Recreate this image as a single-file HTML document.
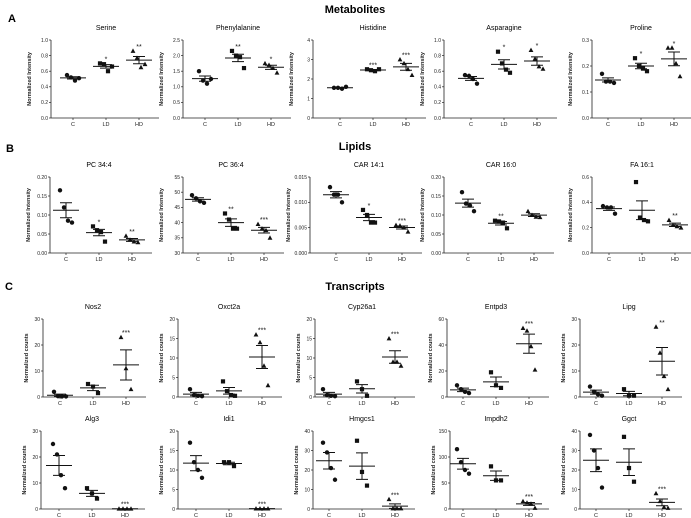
<!DOCTYPE html>
<html><head><meta charset="utf-8">
<style>
html,body{margin:0;padding:0;background:#fff;}
svg{display:block;font-family:"Liberation Sans",sans-serif;}
</style></head>
<body>
<svg id="fig" width="691" height="518" viewBox="0 0 691 518">
<text x="8" y="22" font-size="11" font-weight="bold">A</text>
<text x="355" y="13" font-size="11" font-weight="bold" text-anchor="middle">Metabolites</text>
<text x="6" y="152" font-size="11" font-weight="bold">B</text>
<text x="355" y="150" font-size="11" font-weight="bold" text-anchor="middle">Lipids</text>
<text x="5" y="290" font-size="11" font-weight="bold">C</text>
<text x="355" y="290" font-size="11" font-weight="bold" text-anchor="middle">Transcripts</text>
</svg>
<script>
const titles=["Serine","Phenylalanine","Histidine","Asparagine","Proline","PC 34:4","PC 36:4","CAR 14:1","CAR 16:0","FA 16:1","Nos2","Oxct2a","Cyp26a1","Entpd3","Lipg","Alg3","Idi1","Hmgcs1","Impdh2","Ggct"];
const categories=["C","LD","HD"];
const groupC=[[0.55,0.52,0.48,0.51],[1.5,1.2,1.1,1.25],[1.55,1.55,1.5,1.6],[0.55,0.54,0.5,0.44],[0.17,0.14,0.14,0.135],[0.165,0.12,0.085,0.08],[49,48,47,46.5],[0.013,0.0115,0.0115,0.0100],[0.16,0.13,0.125,0.11],[0.37,0.36,0.36,0.31],[2,0.3,0.2,0.2],[2,0.5,0.3,0.2],[2,0.5,0.3,0.2],[9,6,4,3],[4,2,1,0.5],[25,21,13,8],[17,12,10,8],[34,29,21,15],[115,90,75,68],[38,30,21,11]];
const groupLD=[[0.70,0.69,0.60,0.66],[2.15,2.0,1.95,1.6],[2.5,2.45,2.4,2.5],[0.85,0.70,0.62,0.58],[0.23,0.20,0.19,0.18],[0.07,0.06,0.055,0.03],[43,41,38,38],[0.0085,0.0075,0.006,0.006],[0.085,0.083,0.08,0.065],[0.56,0.28,0.26,0.25],[5,4,1.5],[4,1.5,0.5,0.3],[4,2,0.3],[19,9,7],[3,0.5,0.5],[8,6,4],[12,12,11],[35,19,12],[82,55,55],[37,21,14]];
const groupHD=[[0.86,0.77,0.65,0.69],[1.75,1.7,1.6,1.45],[3.0,2.8,2.5,2.2],[0.87,0.76,0.66,0.63],[0.27,0.27,0.21,0.16],[0.045,0.035,0.03,0.028],[39.5,38,37.5,35],[0.0055,0.0054,0.005,0.0042],[0.11,0.1,0.095,0.094],[0.26,0.22,0.21,0.20],[23,11,3],[16,14,8,3],[15,9,9,8],[53,51,39,21],[27,17,8,3],[0.1,0.1,0.1,0.1],[0.1,0.1,0.1,0.1],[5,0.3,0.3,0.3],[15,12,10,2],[8,4,1,0.5]];
const yMin=[0,0,0,0,0,0,30,0,0,0,0,0,0,0,0,0,0,0,0,0];
const yMax=[1,2.5,4,1,0.3,0.2,55,0.015,0.2,0.6,30,20,20,60,30,30,20,40,150,40];
const tickLabels=[["0.0","0.2","0.4","0.6","0.8","1.0"],["0.0","0.5","1.0","1.5","2.0","2.5"],["0","1","2","3","4"],["0.0","0.2","0.4","0.6","0.8","1.0"],["0.0","0.1","0.2","0.3"],["0.00","0.05","0.10","0.15","0.20"],["30","35","40","45","50","55"],["0.000","0.005","0.010","0.015"],["0.00","0.05","0.10","0.15","0.20"],["0.0","0.2","0.4","0.6"],["0","10","20","30"],["0","5","10","15","20"],["0","5","10","15","20"],["0","20","40","60"],["0","10","20","30"],["0","10","20","30"],["0","5","10","15","20"],["0","10","20","30","40"],["0","50","100","150"],["0","10","20","30","40"]];
const starsLD=["*","**","***","*","*","*","**","*","**","","","","","","","","","","",""];
const starsHD=["**","*","***","*","*","**","***","***","","**","***","***","***","***","**","***","***","***","***","***"];

// layout (positions only): axis x, first category x, plot top, plot bottom
const axisX=[51,183,313,444,592,50,183,310,444,592,43,178,315,447,580,41,178,313,450,580];
const catStart=[73,205,340,471,608,66,198,336,468,609,60,196,329,463,596,59,196,329,463,596];
const rowTop=[40,40,40,40,40,177,177,177,177,177,319,319,319,319,319,431,431,431,431,431];
const rowBot=[118,118,118,118,118,253,253,253,253,253,397,397,397,397,397,509,509,509,509,509];

const svg=document.getElementById('fig');
const NS='http://www.w3.org/2000/svg';
function mk(tag,attrs,parent){const e=document.createElementNS(NS,tag);for(const k in attrs)e.setAttribute(k,attrs[k]);(parent||svg).appendChild(e);return e;}
function meanOf(a){return a.reduce((s,v)=>s+v,0)/a.length;}
function semOf(a){const m=meanOf(a);const sd=Math.sqrt(a.reduce((s,v)=>s+(v-m)*(v-m),0)/(a.length-1));return sd/Math.sqrt(a.length);}

titles.forEach((t,i)=>{
  const g=mk('g',{});
  
  
  const top=rowTop[i],bot=rowBot[i],ax=axisX[i];
  const sp=33;
  const xOf=k=>catStart[i]+k*sp;
  const yOf=v=>bot-(v-yMin[i])/(yMax[i]-yMin[i])*(bot-top);
  const right=xOf(2)+20;
  const ttl=mk('text',{x:xOf(1),y:top-10,'font-size':7,'text-anchor':'middle'},g);ttl.textContent=t;
  
  
  const ya=mk('line',{x1:ax,y1:top,x2:ax,y2:bot,stroke:'#222','stroke-width':0.8},g);
  
  
  const xa=mk('line',{x1:ax,y1:bot,x2:right,y2:bot,stroke:'#222','stroke-width':0.8},g);
  
  
  const tl=tickLabels[i];
  tl.forEach((lab,k)=>{
    const v=yMin[i]+(yMax[i]-yMin[i])*k/(tl.length-1);
    const y=yOf(v);
    mk('line',{x1:ax-2,y1:y,x2:ax,y2:y,stroke:'#222','stroke-width':0.7},g);
    const tx=mk('text',{x:ax-3,y:y+1.8,'font-size':5,'text-anchor':'end',fill:'#222'},g);tx.textContent=lab;
    
    
  });
  const yt=mk('text',{x:0,y:0,'font-size':5.5,'font-weight':'bold','text-anchor':'middle',fill:'#222',transform:`translate(${ax-(i<10?20:15)},${(top+bot)/2}) rotate(-90)`},g);
  yt.textContent=i<10?'Normalized Intensity':'Normalized counts';
  
  
  const groups=[groupC[i],groupLD[i],groupHD[i]];
  const stars=["",starsLD[i],starsHD[i]];
  groups.forEach((pts,k)=>{
    const cx=xOf(k);
    mk('line',{x1:cx,y1:bot,x2:cx,y2:bot+2,stroke:'#222','stroke-width':0.7},g);
    const cl=mk('text',{x:cx,y:bot+8,'font-size':5.5,'text-anchor':'middle',fill:'#222'},g);cl.textContent=categories[k];
    
    
    pts.forEach((v,j)=>{
      const px=cx+(pts.length>3?[-6,-2,2,6][j]:[-5,0,5][j]),py=yOf(v);
      let m;
      if(k===0)m=mk('circle',{cx:px,cy:py,r:2.2,fill:'#111'},g);
      else if(k===1)m=mk('rect',{x:px-2.1,y:py-2.1,width:4.2,height:4.2,fill:'#111'},g);
      else m=mk('polygon',{points:`${px},${py-2.5} ${px-2.4},${py+1.9} ${px+2.4},${py+1.9}`,fill:'#111'},g);
      
      
    });
    const m=meanOf(pts),s=semOf(pts);
    const ml=mk('line',{x1:cx-13,y1:yOf(m),x2:cx+13,y2:yOf(m),stroke:'#111','stroke-width':1},g);
    
    
    const eb=mk('path',{d:`M${cx},${yOf(m+s)}V${yOf(m-s)}M${cx-6},${yOf(m+s)}H${cx+6}M${cx-6},${yOf(m-s)}H${cx+6}`,stroke:'#111','stroke-width':1,fill:'none'},g);
    
    
    if(stars[k]){
      const st=mk('text',{x:cx,y:yOf(Math.max(...pts))-2,'font-size':7,'text-anchor':'middle',fill:'#111'},g);st.textContent=stars[k];
      
      
    }
  });
});
</script>
</body></html>
